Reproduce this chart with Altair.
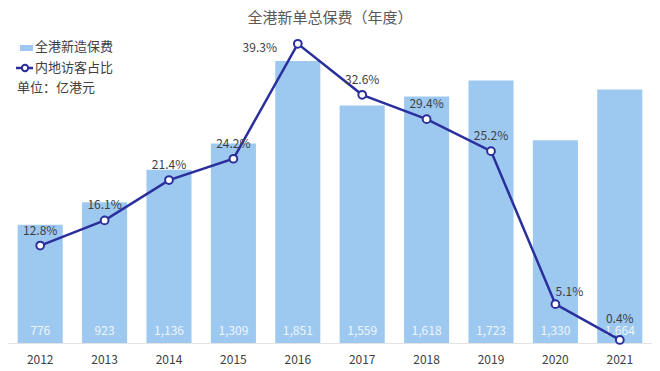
import altair as alt
import pandas as pd

years = ["2012", "2013", "2014", "2015", "2016", "2017", "2018", "2019", "2020", "2021"]
premium = [776, 923, 1136, 1309, 1851, 1559, 1618, 1723, 1330, 1664]
premium_labels = ["776", "923", "1,136", "1,309", "1,851", "1,559", "1,618", "1,723", "1,330", "1,664"]
share = [12.8, 16.1, 21.4, 24.2, 39.3, 32.6, 29.4, 25.2, 5.1, 0.4]
share_labels = ["12.8%", "16.1%", "21.4%", "24.2%", "39.3%", "32.6%", "29.4%", "25.2%", "5.1%", "0.4%"]

title_text = "全港新单总保费（年度）"
legend_bar = "全港新造保费"
legend_line = "内地访客占比"
unit_text = "单位：亿港元"

FONT = "Noto Sans CJK SC"
BAR_C = "#9DC9F1"
LINE_C = "#2B2F9C"
TXT_C = "#404040"

df = pd.DataFrame({"year": years, "premium": premium, "plabel": premium_labels,
                   "share": share, "slabel": share_labels, "zero": [0] * len(years)})

W, H = 644, 335

xenc = alt.X("year:N", sort=years,
             scale=alt.Scale(paddingInner=0.3, paddingOuter=0.15),
             axis=alt.Axis(title=None, labelAngle=0, ticks=False, labelPadding=11,
                           labelFontSize=12, labelColor=TXT_C, labelFont=FONT,
                           domainColor="#e3e3e3", grid=False))

ybar = alt.Y("premium:Q", scale=alt.Scale(domain=[0, 2198], nice=False), axis=None)
base = alt.Chart(df)

bars = base.mark_bar(color=BAR_C).encode(x=xenc, y=ybar)
bar_text = base.mark_text(font=FONT, fontSize=12, color="#EEF5FC", baseline="middle", dy=-12).encode(
    x=xenc, y=alt.Y("zero:Q", scale=alt.Scale(domain=[0, 2198], nice=False), axis=None),
    text="plabel:N")
bar_layer = alt.layer(bars, bar_text)

yline = alt.Y("share:Q", scale=alt.Scale(domain=[0, 44.0], nice=False), axis=None)
line = base.mark_line(color=LINE_C, strokeWidth=2.5).encode(x=xenc, y=yline)
pts = base.mark_point(filled=True, fill="white", stroke=LINE_C, strokeWidth=2, size=60, opacity=1).encode(
    x=xenc, y=yline)

normal = [y for y in years if y not in ("2016", "2020", "2021")]
lbl_common = dict(font=FONT, fontSize=12, color=TXT_C, baseline="middle")
lbl1 = base.mark_text(dy=-15, **lbl_common).encode(x=xenc, y=yline, text="slabel:N").transform_filter(
    alt.FieldOneOfPredicate(field="year", oneOf=normal))
lbl2016 = base.mark_text(dx=-38, dy=4, **lbl_common).encode(x=xenc, y=yline, text="slabel:N").transform_filter(
    alt.datum.year == "2016")
lbl2020 = base.mark_text(dx=14, dy=-12, **lbl_common).encode(x=xenc, y=yline, text="slabel:N").transform_filter(
    alt.datum.year == "2020")
lbl2021 = base.mark_text(dy=-21, **lbl_common).encode(x=xenc, y=yline, text="slabel:N").transform_filter(
    alt.datum.year == "2021")
line_layer = alt.layer(line, pts, lbl1, lbl2016, lbl2020, lbl2021)

# title and manual legend
title = alt.Chart(pd.DataFrame({"t": [title_text]})).mark_text(
    font=FONT, fontSize=15, color="#595959", baseline="middle", align="center").encode(
    x=alt.value(W / 2), y=alt.value(10), text="t:N")

leg_rect = alt.Chart(pd.DataFrame({"a": [0]})).mark_rect(color=BAR_C).encode(
    x=alt.value(12), x2=alt.value(25), y=alt.value(37), y2=alt.value(43))
leg_t1 = alt.Chart(pd.DataFrame({"t": [legend_bar]})).mark_text(
    font=FONT, fontSize=13, color=TXT_C, align="left", baseline="middle").encode(
    x=alt.value(27), y=alt.value(39), text="t:N")
leg_line = alt.Chart(pd.DataFrame({"a": [0]})).mark_rule(color=LINE_C, strokeWidth=2.5).encode(
    x=alt.value(8), x2=alt.value(25), y=alt.value(60))
leg_pt = alt.Chart(pd.DataFrame({"a": [0]})).mark_point(
    filled=True, fill="white", stroke=LINE_C, strokeWidth=2, size=40, opacity=1).encode(
    x=alt.value(17), y=alt.value(60))
leg_t2 = alt.Chart(pd.DataFrame({"t": [legend_line]})).mark_text(
    font=FONT, fontSize=13, color=TXT_C, align="left", baseline="middle").encode(
    x=alt.value(27), y=alt.value(60), text="t:N")
leg_t3 = alt.Chart(pd.DataFrame({"t": [unit_text]})).mark_text(
    font=FONT, fontSize=13, color=TXT_C, align="left", baseline="middle").encode(
    x=alt.value(9), y=alt.value(80), text="t:N")

chart = alt.layer(bar_layer, line_layer, title, leg_rect, leg_t1, leg_line, leg_pt, leg_t2, leg_t3).resolve_scale(
    y="independent").properties(width=W, height=H, background="white", padding=0).configure_view(stroke=None)

chart.save("out.html", embed_options={"renderer": "svg", "actions": False})
